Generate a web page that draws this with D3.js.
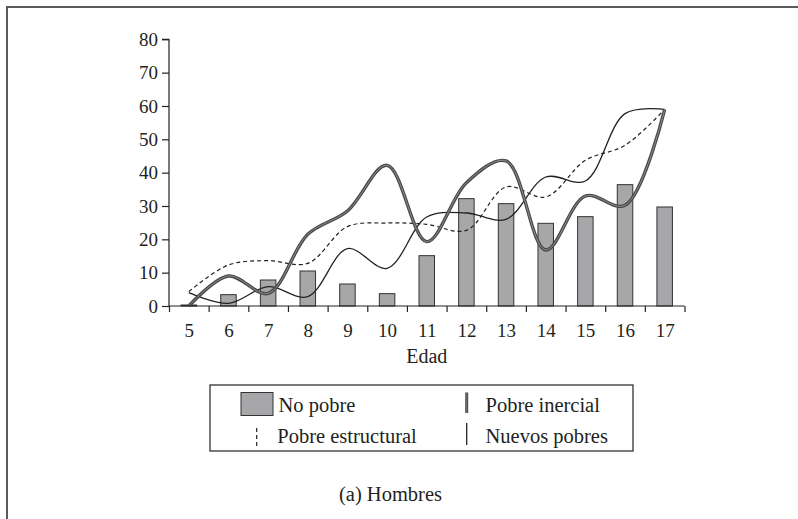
<!DOCTYPE html>
<html><head><meta charset="utf-8">
<script src="https://cdn.jsdelivr.net/npm/d3@7"></script>
<style>
body{margin:0;background:#fff;}
svg{display:block;}
text{font-family:"Liberation Serif","DejaVu Serif",serif;fill:#231f20;}
</style></head>
<body>
<svg id="chart" width="798" height="519"></svg>
<script>
const categories = [5,6,7,8,9,10,11,12,13,14,15,16,17];
const noPobre =         [0.3, 3.4, 7.8, 10.5, 6.6, 3.7, 15.1, 32.2, 30.7, 24.8, 26.8, 36.4, 29.7];
const pobreInercial =   [0.0, 9.0, 3.8, 21.5, 28.5, 42.2, 19.3, 37.0, 43.5, 16.8, 33.0, 30.2, 59.0];
const pobreEstructural = [4.3, 12.3, 13.6, 12.8, 23.8, 24.9, 24.5, 22.7, 35.7, 32.7, 43.7, 48.2, 59.0];
const nuevosPobres =    [4.0, 0.8, 5.8, 2.8, 17.2, 11.3, 26.7, 27.9, 26.0, 38.7, 37.5, 57.7, 59.0];
const yTicks = [0,10,20,30,40,50,60,70,80];
const xLabel = "Edad";
const legendLabels = ["No pobre","Pobre inercial","Pobre estructural","Nuevos pobres"];
const caption = "(a) Hombres";

const FONT = '"Liberation Serif", "DejaVu Serif", serif';
const svg = d3.select("#chart");

// outer frame (left and top only visible)
svg.append("path").attr("d","M7,519 L7,7 L798,7").attr("fill","none")
  .attr("stroke","#5a5a5a").attr("stroke-width",2);

const x = d3.scaleLinear().domain([4.5,17.5]).range([169,684.5]);
const y = d3.scaleLinear().domain([0,80]).range([306,39.3]);

// bars
const barW = 15.5;
svg.append("g").selectAll("rect").data(categories).join("rect")
  .attr("x",(d)=>x(d)-barW/2)
  .attr("y",(d,i)=>y(noPobre[i]))
  .attr("width",barW)
  .attr("height",(d,i)=>y(0)-y(noPobre[i]))
  .attr("fill","#a7a7aa").attr("stroke","#333").attr("stroke-width",1);

const line = (vals)=> d3.line().x((d,i)=>x(categories[i])).y(d=>y(d)).curve(d3.curveCatmullRom.alpha(0.5))(vals);

// Pobre estructural dashed
svg.append("path").attr("d",line(pobreEstructural)).attr("fill","none")
  .attr("stroke","#222").attr("stroke-width",1.2).attr("stroke-dasharray","4,3");
// Nuevos pobres thin
svg.append("path").attr("d",line(nuevosPobres)).attr("fill","none")
  .attr("stroke","#222").attr("stroke-width",1.3);
// Pobre inercial thick
svg.append("path").attr("d",line(pobreInercial)).attr("fill","none")
  .attr("stroke","#4a4a4a").attr("stroke-width",3.4);
svg.append("path").attr("d",line(pobreInercial)).attr("fill","none")
  .attr("stroke","#8c8c8c").attr("stroke-width",1);

// y axis
const gy = svg.append("g").attr("transform","translate(169,0)")
  .call(d3.axisLeft(y).tickValues(yTicks).tickSize(7).tickPadding(4).tickFormat(d3.format("d")));
gy.attr("font-family",FONT);
gy.select(".domain").attr("d","M-7,"+y(80)+"H0V"+y(0)).attr("stroke","#222").attr("stroke-width",1.2);
gy.selectAll(".tick line").attr("stroke","#222").attr("stroke-width",1.2);
gy.selectAll(".tick text").style("font-family",FONT).style("font-size","19px").attr("fill","#231f20");

// x axis boundary ticks
const bounds = categories.map(c=>c-0.5).concat([categories[categories.length-1]+0.5]);
const gx = svg.append("g").attr("transform","translate(0,306)")
  .call(d3.axisBottom(x).tickValues(bounds).tickSize(6).tickFormat(""));
gx.select(".domain").attr("d","M"+x(4.5)+",0H"+x(17.5)).attr("stroke","#222").attr("stroke-width",1.2);
gx.selectAll(".tick line").attr("stroke","#222").attr("stroke-width",1.2);

// x labels
const gxl = svg.append("g").attr("transform","translate(0,306)")
  .call(d3.axisBottom(x).tickValues(categories).tickSize(0).tickPadding(18).tickFormat(d3.format("d")));
gxl.attr("font-family",FONT);
gxl.select(".domain").remove();
gxl.selectAll(".tick text").style("font-family",FONT).style("font-size","19px").attr("fill","#231f20");

svg.append("text").attr("x",x(11)).attr("y",363).attr("text-anchor","middle")
  .style("font-family",FONT).style("font-size","20px").text(xLabel);

// legend
const lg = svg.append("g").style("font-family",FONT);
lg.append("rect").attr("x",210).attr("y",385).attr("width",423).attr("height",66)
  .attr("fill","none").attr("stroke","#333").attr("stroke-width",1.3);
lg.append("rect").attr("x",241).attr("y",392.5).attr("width",32).attr("height",23)
  .attr("fill","#a7a7aa").attr("stroke","#333").attr("stroke-width",1);
lg.append("text").attr("x",278.5).attr("y",411.5).style("font-size","20.5px").text(legendLabels[0]);
lg.append("line").attr("x1",466.7).attr("x2",466.7).attr("y1",392.5).attr("y2",413)
  .attr("stroke","#4a4a4a").attr("stroke-width",3);
lg.append("line").attr("x1",466.7).attr("x2",466.7).attr("y1",392.5).attr("y2",413)
  .attr("stroke","#9a9a9a").attr("stroke-width",1).attr("stroke-dasharray","1,1");
lg.append("text").attr("x",485.5).attr("y",411.5).style("font-size","20.5px").text(legendLabels[1]);
lg.append("line").attr("x1",256.7).attr("x2",256.7).attr("y1",428).attr("y2",447)
  .attr("stroke","#222").attr("stroke-width",1.2).attr("stroke-dasharray","4,3");
lg.append("text").attr("x",277.3).attr("y",443).style("font-size","20.5px").text(legendLabels[2]);
lg.append("line").attr("x1",466.7).attr("x2",466.7).attr("y1",423).attr("y2",445)
  .attr("stroke","#222").attr("stroke-width",1.3);
lg.append("text").attr("x",485.5).attr("y",443).style("font-size","20.5px").text(legendLabels[3]);

svg.append("text").attr("x",390.5).attr("y",500.5).attr("text-anchor","middle")
  .style("font-family",FONT).style("font-size","20.5px").text(caption);
</script>
</body></html>
